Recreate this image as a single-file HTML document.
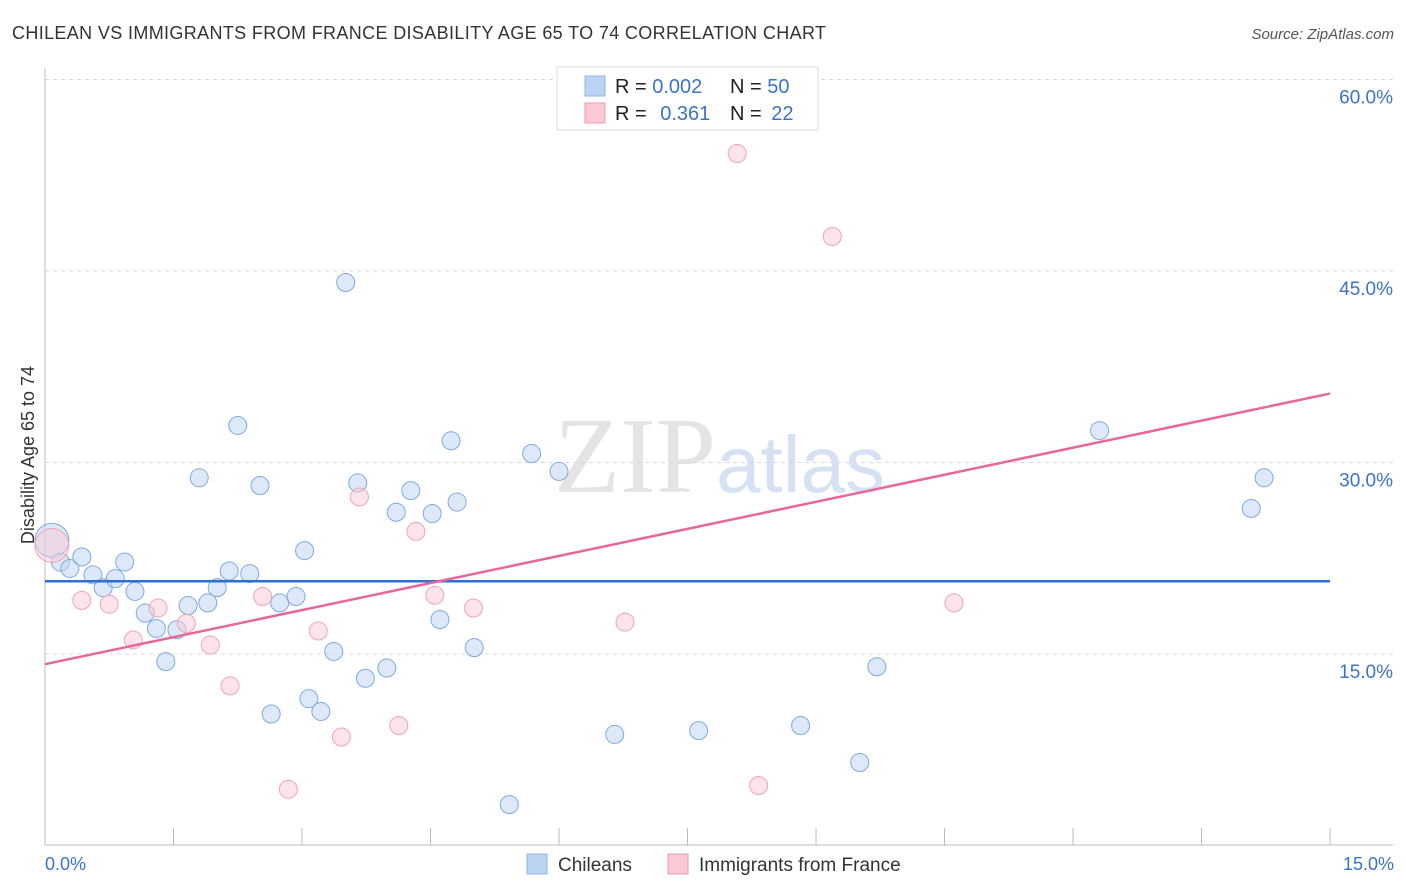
<!DOCTYPE html>
<html><head><meta charset="utf-8">
<style>
body{margin:0;background:#fff;font-family:"Liberation Sans",sans-serif;}
svg{display:block}
</style></head>
<body>
<svg id="chart" width="1406" height="892">
<text x="12" y="39" font-size="18" fill="#333" textLength="814">CHILEAN VS IMMIGRANTS FROM FRANCE DISABILITY AGE 65 TO 74 CORRELATION CHART</text>
<text x="1394" y="39" font-size="15" fill="#555" text-anchor="end" font-style="italic">Source: ZipAtlas.com</text>
<text x="716" y="492" font-size="108" fill="#e4e4e4" text-anchor="end" font-family="Liberation Serif">ZIP</text>
<text x="716" y="492" font-size="80" fill="#d6e2f4">atlas</text>
<g id="grid"></g>
<g id="axes"></g>
<g id="marks"></g>
<text transform="translate(34,455) rotate(-90)" font-size="18" fill="#333" text-anchor="middle">Disability Age 65 to 74</text>
<text x="45" y="870" font-size="18" fill="#3b73c9">0.0%</text>
<text x="1394" y="870" font-size="18" fill="#3b73c9" text-anchor="end">15.0%</text>
<g>
<rect x="557" y="67" width="261" height="63" fill="#fff" stroke="#ddd"/>
<rect x="585" y="76" width="20" height="20" fill="#bcd4f4" stroke="#8fb3e6"/>
<rect x="585" y="103" width="20" height="20" fill="#fbc9d6" stroke="#ee9ab1"/>
<text x="615" y="93" font-size="20" fill="#222">R = <tspan fill="#3b73c9">0.002</tspan></text>
<text x="730" y="93" font-size="20" fill="#222">N = <tspan fill="#3b73c9">50</tspan></text>
<text x="615" y="120" font-size="20" fill="#222">R = <tspan fill="#3b73c9" dx="8">0.361</tspan></text>
<text x="730" y="120" font-size="20" fill="#222">N = <tspan fill="#3b73c9" dx="4">22</tspan></text>
</g>
<g>
<rect x="527" y="854" width="20" height="20" fill="#bcd4f4" stroke="#8fb3e6"/>
<text x="558" y="871" font-size="19" fill="#333">Chileans</text>
<rect x="668" y="854" width="20" height="20" fill="#fbc9d6" stroke="#ee9ab1"/>
<text x="699" y="871" font-size="19" fill="#333">Immigrants from France</text>
</g>
</svg>
<script>
const yTicks=[15,30,45,60];
const yTickLabels=["15.0%","30.0%","45.0%","60.0%"];
const xTicks=[1.5,3,4.5,6,7.5,9,10.5,12,13.5,15];
const chileanX=[0.08,0.18,0.29,0.43,0.56,0.68,0.82,0.93,1.05,1.17,1.30,1.41,1.54,1.67,1.80,1.90,2.01,2.15,2.25,2.39,2.51,2.64,2.74,2.93,3.03,3.08,3.22,3.37,3.51,3.65,3.74,3.99,4.10,4.27,4.52,4.61,4.74,4.81,5.01,5.42,5.68,6.00,6.65,7.63,8.82,9.51,9.71,12.31,14.08,14.23];
const chileanY=[23.9,22.2,21.7,22.6,21.2,20.2,20.9,22.2,19.9,18.2,17.0,14.4,16.9,18.8,28.8,19.0,20.2,21.5,32.9,21.3,28.2,10.3,19.0,19.5,23.1,11.5,10.5,15.2,44.1,28.4,13.1,13.9,26.1,27.8,26.0,17.7,31.7,26.9,15.5,3.2,30.7,29.3,8.7,9.0,9.4,6.5,14.0,32.5,26.4,28.8];
const franceX=[0.08,0.43,0.75,1.03,1.32,1.65,1.93,2.16,2.54,2.84,3.19,3.46,3.67,4.13,4.33,4.55,5.00,6.77,8.08,8.33,9.19,10.61];
const franceY=[23.5,19.2,18.9,16.1,18.6,17.4,15.7,12.5,19.5,4.4,16.8,8.5,27.3,9.4,24.6,19.6,18.6,17.5,54.2,4.7,47.7,19.0];
const chileanTrend=[20.7,20.7];
const franceTrend=[14.2,35.4];
const trendX=[0,15];

const X=v=>45+v*85.67;
const Y=v=>845.5-v*12.767;
const NS="http://www.w3.org/2000/svg";
function mk(tag,attrs,parent){const e=document.createElementNS(NS,tag);for(const k in attrs)e.setAttribute(k,attrs[k]);document.getElementById(parent).appendChild(e);return e;}

yTicks.forEach((t,i)=>{
  const l=mk('line',{x1:45,x2:1393,y1:Y(t),y2:Y(t),stroke:'#d8d8d8','stroke-dasharray':'4,4'},'grid');
  
  
  const tx=mk('text',{x:1393,y:Y(t)+24,'font-size':19,fill:'#3b73c9','text-anchor':'end'},'grid');
  tx.textContent=yTickLabels[i];
  
  
});
let a=mk('line',{x1:45,x2:45,y1:68,y2:845,stroke:'#bbb'},'axes');


a=mk('line',{x1:45,x2:1393,y1:845,y2:845,stroke:'#bbb'},'axes');


xTicks.forEach(t=>{
  const l=mk('line',{x1:X(t),x2:X(t),y1:828,y2:845,stroke:'#bbb'},'axes');
  
  
});
function pts(xs,ys,fill,stroke,name){
  xs.forEach((x,i)=>{
    const r=(i===0)?17:9;
    const c=mk('circle',{cx:X(x),cy:Y(ys[i]),r:r,fill:fill,'fill-opacity':0.5,stroke:stroke,'stroke-width':1},'marks');
    
    
  });
}
pts(chileanX,chileanY,'#bcd4f4','#7ea8e4','chilean-point');
pts(franceX,franceY,'#fbc9d6','#f0a3b9','france-point');
let t=mk('line',{x1:X(trendX[0]),x2:X(trendX[1]),y1:Y(chileanTrend[0]),y2:Y(chileanTrend[1]),stroke:'#2f6fd0','stroke-width':2.5},'marks');


t=mk('line',{x1:X(trendX[0]),x2:X(trendX[1]),y1:Y(franceTrend[0]),y2:Y(franceTrend[1]),stroke:'#e8679a','stroke-width':2.5},'marks');


</script>
</body></html>
